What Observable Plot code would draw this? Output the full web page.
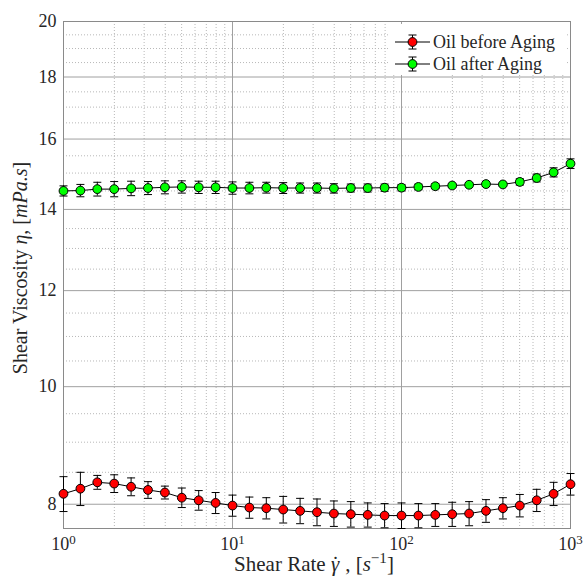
<!DOCTYPE html>
<html>
<head>
<meta charset="utf-8">
<script src="https://cdn.jsdelivr.net/npm/d3@7"></script>
<script src="https://cdn.jsdelivr.net/npm/@observablehq/plot@0.6"></script>
<style>
  html, body { margin: 0; padding: 0; background: white; }
</style>
</head>
<body>
<div id="chart"></div>
<script>
// ---- data ----
const shearRate = [1, 1.259, 1.585, 1.995, 2.512, 3.162, 3.981, 5.012, 6.310, 7.943,
  10, 12.59, 15.85, 19.95, 25.12, 31.62, 39.81, 50.12, 63.10, 79.43,
  100, 125.9, 158.5, 199.5, 251.2, 316.2, 398.1, 501.2, 631.0, 794.3, 1000];
const viscBefore = [8.16, 8.24, 8.34, 8.32, 8.27, 8.22, 8.18, 8.10, 8.06, 8.02,
  7.98, 7.95, 7.94, 7.92, 7.90, 7.88, 7.86, 7.85, 7.84, 7.83,
  7.83, 7.83, 7.84, 7.85, 7.86, 7.90, 7.94, 7.98, 8.06, 8.16, 8.31];
const errBefore = [0.27, 0.26, 0.11, 0.14, 0.14, 0.13, 0.10, 0.15, 0.15, 0.16,
  0.16, 0.16, 0.16, 0.20, 0.19, 0.20, 0.19, 0.19, 0.18, 0.18,
  0.19, 0.18, 0.17, 0.18, 0.18, 0.17, 0.16, 0.17, 0.17, 0.18, 0.17];
const viscAfter = [14.50, 14.51, 14.55, 14.55, 14.57, 14.58, 14.60, 14.61, 14.60, 14.60,
  14.58, 14.58, 14.59, 14.58, 14.58, 14.58, 14.57, 14.58, 14.58, 14.59,
  14.59, 14.61, 14.63, 14.65, 14.67, 14.69, 14.68, 14.75, 14.86, 15.02, 15.27];
const errAfter = [0.14, 0.17, 0.19, 0.21, 0.20, 0.18, 0.18, 0.17, 0.17, 0.17,
  0.17, 0.16, 0.15, 0.15, 0.14, 0.14, 0.13, 0.11, 0.11, 0.10,
  0.09, 0.08, 0.07, 0.06, 0.06, 0.06, 0.05, 0.09, 0.11, 0.13, 0.14];
const seriesNames = ["Oil before Aging", "Oil after Aging"];
const seriesColors = ["#ff0000", "#00ff00"];
const xMajorTicks = [1, 10, 100, 1000];
const xMinorTicks = [2, 3, 4, 5, 6, 7, 8, 9, 20, 30, 40, 50, 60, 70, 80, 90,
  200, 300, 400, 500, 600, 700, 800, 900];
const yMajorTicks = [8, 10, 12, 14, 16, 18, 20];
const yMinorTicks = [8.5, 9, 9.5, 10.5, 11, 11.5, 12.5, 13, 13.5, 14.5, 15, 15.5,
  16.5, 17, 17.5, 18.5, 19, 19.5];
const xDomain = [1, 1000];
const yDomain = [7.64, 20];

// ---- build table ----
const before = shearRate.map((x, i) => ({x, v: viscBefore[i], e: errBefore[i]}));
const after = shearRate.map((x, i) => ({x, v: viscAfter[i], e: errAfter[i]}));

const cap = {draw(ctx, size) { const r = Math.sqrt(size / Math.PI); ctx.moveTo(-r, 0); ctx.lineTo(r, 0); }};

function seriesMarks(data, color) {
  return [
    Plot.ruleX(data, {x: "x", y1: d => d.v - d.e, y2: d => d.v + d.e, stroke: "black", strokeWidth: 1}),
    Plot.dot(data, {x: "x", y: d => d.v - d.e, symbol: cap, r: 4, stroke: "black", fill: "none", strokeWidth: 1}),
    Plot.dot(data, {x: "x", y: d => d.v + d.e, symbol: cap, r: 4, stroke: "black", fill: "none", strokeWidth: 1}),
    Plot.line(data, {x: "x", y: "v", stroke: "black", strokeWidth: 1}),
    Plot.dot(data, {x: "x", y: "v", r: 4.4, fill: color, stroke: "black", strokeWidth: 1})
  ];
}

const chart = Plot.plot({
  width: 583,
  height: 578,
  marginLeft: 63,
  marginRight: 13,
  marginTop: 21,
  marginBottom: 50,
  style: {fontFamily: "'Liberation Serif', serif", fontSize: "18px", color: "#262626", background: "white"},
  x: {type: "log", domain: xDomain},
  y: {type: "log", domain: yDomain, axis: null},
  marks: [
    Plot.ruleX(xMinorTicks, {stroke: "#b8b8b8", strokeDasharray: "1,2", strokeWidth: 1}),
    Plot.ruleY(yMinorTicks, {stroke: "#b8b8b8", strokeDasharray: "1,2", strokeWidth: 1}),
    Plot.ruleX(xMajorTicks, {stroke: "#a0a0a0", strokeWidth: 1}),
    Plot.ruleY(yMajorTicks, {stroke: "#a0a0a0", strokeWidth: 1}),
    Plot.frame({stroke: "#8a8a8a"}),
    Plot.axisX({ticks: xMajorTicks, tickSize: 0, tickPadding: 9, label: null,
      tickFormat: d => String(Math.round(Math.log10(d)))}),
    Plot.text(yMajorTicks, {x: xDomain[0], y: d => d, text: d => String(d),
      textAnchor: "end", dx: -7, fill: "#262626", fontSize: 18}),
    ...seriesMarks(before, seriesColors[0]),
    ...seriesMarks(after, seriesColors[1])
  ]
});

const svg = d3.select(chart);

// superscript x tick labels: 10^k
svg.selectAll("g[aria-label='x-axis tick label'] text").each(function() {
  const t = d3.select(this);
  const k = t.text();
  t.text("");
  t.append("tspan").text("10");
  t.append("tspan").attr("dy", "-0.5em").attr("font-size", "0.72em").text(k);
});

// axis labels
const xl = svg.append("text")
  .attr("x", 314).attr("y", 571)
  .attr("text-anchor", "middle")
  .attr("fill", "#262626")
  .attr("font-size", 21);
xl.append("tspan").text("Shear Rate ");
xl.append("tspan").attr("font-style", "italic").text("\u03B3");
xl.append("tspan").attr("dx", "-0.34em").attr("dy", "0.02em").text("\u02D9");
xl.append("tspan").attr("dx", "0.04em").attr("dy", "-0.02em").text(" , [");
xl.append("tspan").attr("font-style", "italic").text("s");
xl.append("tspan").attr("dy", "-0.5em").attr("font-size", "0.72em").text("\u22121");
xl.append("tspan").attr("dy", "0.36em").text("]");

const yl = svg.append("text")
  .attr("transform", "translate(20,268) rotate(-90)")
  .attr("text-anchor", "middle")
  .attr("dy", "0.35em")
  .attr("fill", "#262626")
  .attr("font-size", 20);
yl.append("tspan").text("Shear Viscosity ");
yl.append("tspan").attr("font-style", "italic").text("\u03B7");
yl.append("tspan").text(", [");
yl.append("tspan").attr("font-style", "italic").text("mPa.s");
yl.append("tspan").text("]");

// legend
const lg = svg.append("g");
lg.append("rect").attr("x", 390).attr("y", 24).attr("width", 175).attr("height", 51).attr("fill", "white");
seriesNames.forEach((name, i) => {
  const cy = 42 + i * 22;
  lg.append("line").attr("x1", 395).attr("x2", 430).attr("y1", cy).attr("y2", cy).attr("stroke", "black");
  lg.append("line").attr("x1", 412.5).attr("x2", 412.5).attr("y1", cy - 7).attr("y2", cy + 7).attr("stroke", "black");
  lg.append("line").attr("x1", 408.5).attr("x2", 416.5).attr("y1", cy - 7).attr("y2", cy - 7).attr("stroke", "black");
  lg.append("line").attr("x1", 408.5).attr("x2", 416.5).attr("y1", cy + 7).attr("y2", cy + 7).attr("stroke", "black");
  lg.append("circle").attr("cx", 412.5).attr("cy", cy).attr("r", 4.4).attr("fill", seriesColors[i]).attr("stroke", "black");
  lg.append("text").attr("x", 433).attr("y", cy).attr("dy", "0.33em")
    .attr("text-anchor", "start")
    .attr("fill", "#262626").attr("font-size", 18).text(name);
});

document.getElementById("chart").appendChild(chart);
</script>
</body>
</html>
